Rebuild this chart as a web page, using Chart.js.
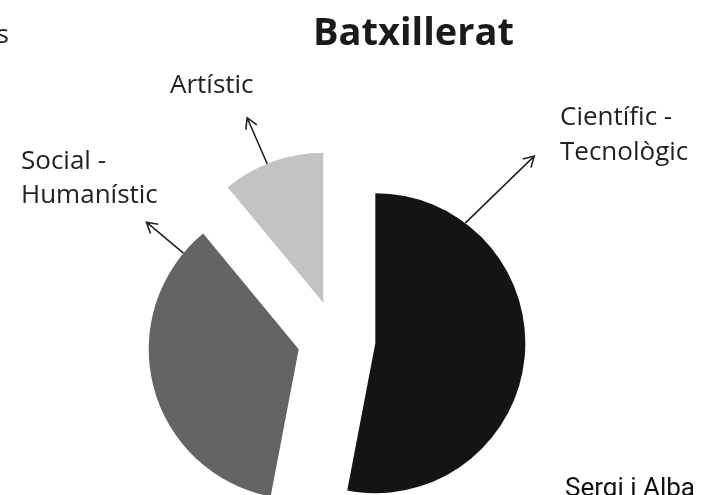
<!DOCTYPE html>
<html>
<head>
<meta charset="utf-8">
<script src="https://cdn.jsdelivr.net/npm/chart.js@4/dist/chart.umd.min.js"></script>
<style>
  html, body { margin: 0; padding: 0; background: #ffffff; }
  #wrap { position: relative; width: 710px; height: 495px; overflow: hidden; }
</style>
</head>
<body>
<div id="wrap"><canvas id="c" width="710" height="495"></canvas></div>
<script>
// ---- data ----
const categories = ['Científic - Tecnològic', 'Social - Humanístic', 'Artístic'];
const values = [53, 36, 11];
const labelLines = [['Científic -', 'Tecnològic'], ['Social -', 'Humanístic'], ['Artístic']];
const titleText = 'Batxillerat';
const authorText = 'Sergi i Alba';
const clippedText = 's';

// ---- styles / layout ----
const sliceColors = ['#141414', '#646464', '#c3c3c3'];
const explode = 39;              // px each slice is pulled out from the centre
const pieRadius = 150;
const labelFont = '26px "Open Sans"';
const labelColor = '#222222';
// per slice: where the arrow leaves the arc (fraction along the slice), arrow vector, label anchor
const annot = [
  { at: 0.193, vec: [69, -67], text: [560, 125], lh: 35 },
  { at: 0.918, vec: [-37, -31], text: [21, 169], lh: 34 },
  { at: 0.445, vec: [-20, -46], text: [170, 93], lh: 34 }
];

const explodePlugin = {
  id: 'explode',
  afterDatasetsUpdate(chart) {
    chart.getDatasetMeta(0).data.forEach(arc => {
      const mid = (arc.startAngle + arc.endAngle) / 2;
      arc.x += Math.cos(mid) * explode;
      arc.y += Math.sin(mid) * explode;
    });
  }
};

function arrow(ctx, x0, y0, x1, y1) {
  const a = Math.atan2(y1 - y0, x1 - x0);
  const h = 12, sp = Math.PI / 6;
  ctx.beginPath();
  ctx.moveTo(x0, y0);
  ctx.lineTo(x1, y1);
  ctx.moveTo(x1 - h * Math.cos(a - sp), y1 - h * Math.sin(a - sp));
  ctx.lineTo(x1, y1);
  ctx.lineTo(x1 - h * Math.cos(a + sp), y1 - h * Math.sin(a + sp));
  ctx.stroke();
}

const textPlugin = {
  id: 'texts',
  afterDraw(chart) {
    const ctx = chart.ctx;
    ctx.save();
    // title
    ctx.fillStyle = '#1a1a1a';
    ctx.font = 'bold 38px "Open Sans"';
    ctx.textAlign = 'left';
    ctx.textBaseline = 'alphabetic';
    ctx.fillText(titleText, 313, 45);
    // clipped text top-left
    ctx.fillStyle = labelColor;
    ctx.font = labelFont;
    ctx.textAlign = 'right';
    ctx.fillText(clippedText, 9, 43);
    // labels and arrows
    ctx.textAlign = 'left';
    ctx.strokeStyle = '#222222';
    ctx.lineWidth = 1.6;
    const arcs = chart.getDatasetMeta(0).data;
    arcs.forEach((arc, i) => {
      const an = annot[i];
      const ang = arc.startAngle + (arc.endAngle - arc.startAngle) * an.at;
      const sx = arc.x + Math.cos(ang) * arc.outerRadius;
      const sy = arc.y + Math.sin(ang) * arc.outerRadius;
      arrow(ctx, sx, sy, sx + an.vec[0], sy + an.vec[1]);
      labelLines[i].forEach((ln, k) => {
        ctx.fillText(ln, an.text[0], an.text[1] + k * an.lh);
      });
    });
    // author
    ctx.fillStyle = '#111111';
    ctx.font = '26px Roboto';
    ctx.fillText(authorText, 565, 496);
    ctx.restore();
  }
};

new Chart(document.getElementById('c'), {
  type: 'pie',
  data: {
    labels: categories,
    datasets: [{
      data: values,
      backgroundColor: sliceColors,
      borderWidth: 0,
      radius: pieRadius,
      clip: false
    }]
  },
  options: {
    responsive: false,
    animation: false,
    events: [],
    layout: { padding: { left: 0, right: 37, top: 184, bottom: 0 } },
    plugins: {
      legend: { display: false },
      title: { display: false },
      tooltip: { enabled: false }
    }
  },
  plugins: [explodePlugin, textPlugin]
});
</script>
</body>
</html>
